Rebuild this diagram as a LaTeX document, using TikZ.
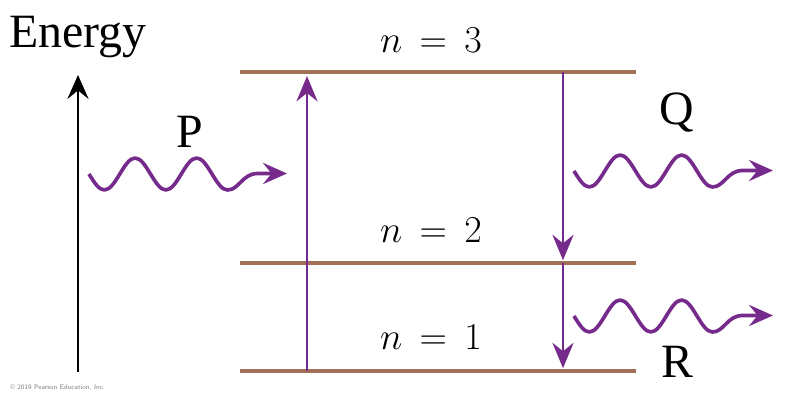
\RequirePackage{fix-cm}
\documentclass[tikz,border=0pt]{standalone}
\usepackage{amsmath,amssymb}
\usepackage{fontspec}
\setmainfont{Liberation Serif}
\usepackage{tikz}
\usetikzlibrary{arrows.meta}
\definecolor{levelbrown}{RGB}{163,112,88}
\definecolor{photon}{RGB}{118,42,140}
\tikzset{
  level/.style={line width=2.8pt, levelbrown},
  jump/.style={line width=2.1pt, photon, -{Stealth[length=18pt,width=15pt,inset=6pt]}, shorten >=1.5pt},
  wave/.style={line width=2.6pt, photon, line join=round, -{Stealth[length=17pt,width=15pt,inset=6pt]}},
  biglabel/.style={font=\fontsize{34}{38}\selectfont, inner sep=0pt, anchor=base},
  levellabel/.style={font=\fontsize{27}{32}\selectfont, inner sep=0pt, anchor=base}
}
\begin{document}
\begin{tikzpicture}[x=0.025cm, y=0.025cm]
\useasboundingbox (0,0) rectangle (804,412);

% Energy axis
\coordinate (e0) at (78,40);
\coordinate (e1) at (78,337);
\draw[line width=2pt, -{Stealth[length=17pt,width=15pt,inset=6pt]}] (e0) -- (e1);
\node[biglabel] (energy) at (78,364) {Energy};

% Energy levels
\coordinate (n3w) at (240,340);
\coordinate (n3e) at (636,340);
\coordinate (n2w) at (240,149);
\coordinate (n2e) at (636,149);
\coordinate (n1w) at (240,41);
\coordinate (n1e) at (636,41);
\draw[level] (n3w) -- (n3e);
\draw[level] (n2w) -- (n2e);
\draw[level] (n1w) -- (n1e);

% Level labels
\node[levellabel] (lab3) at (431,359) {$n\hspace{0.18em}=\hspace{0.18em}3$};
\node[levellabel] (lab2) at (431,169) {$n\hspace{0.18em}=\hspace{0.18em}2$};
\node[levellabel] (lab1) at (431,62) {$n\hspace{0.18em}=\hspace{0.18em}1$};

% Transitions
\coordinate (a1) at (307,41);
\coordinate (a3) at (307,338);
\coordinate (b3) at (563,340);
\coordinate (b2) at (563,149);
\coordinate (b1) at (563,41);
\draw[jump] (a1) -- (a3);
\draw[jump, shorten >=2pt] (b3) -- (b2);
\draw[jump, shorten >=2pt] (b2) -- (b1);

% Photons
\foreach \sx/\cy/\tx in {89/238/287, 574/241/773, 574/96/773}{
  \draw[wave] (\sx,\cy) sin ({\sx+15.4},{\cy-16}) cos ({\sx+30.8},\cy)
    sin ({\sx+46.1},{\cy+16}) cos ({\sx+61.5},\cy)
    sin ({\sx+76.9},{\cy-16}) cos ({\sx+92.3},\cy)
    sin ({\sx+107.6},{\cy+16}) cos ({\sx+123},\cy)
    sin ({\sx+138.4},{\cy-16})
    .. controls ({\sx+150},{\cy-16}) and ({\sx+153},\cy) .. ({\sx+168},{\cy+0.5})
    -- (\tx,{\cy+0.5});
}

% Photon labels
\node[biglabel] (P) at (190,264) {P};
\node[biglabel] (Q) at (677,287) {Q};
\node[biglabel] (R) at (677,34) {R};

% Credit line
\node[font=\fontsize{4.8}{5}\sffamily, gray, anchor=west, inner sep=0pt] (credit) at (10,24) {\textcopyright\ 2019 Pearson Education, Inc.};

\end{tikzpicture}
\end{document}
